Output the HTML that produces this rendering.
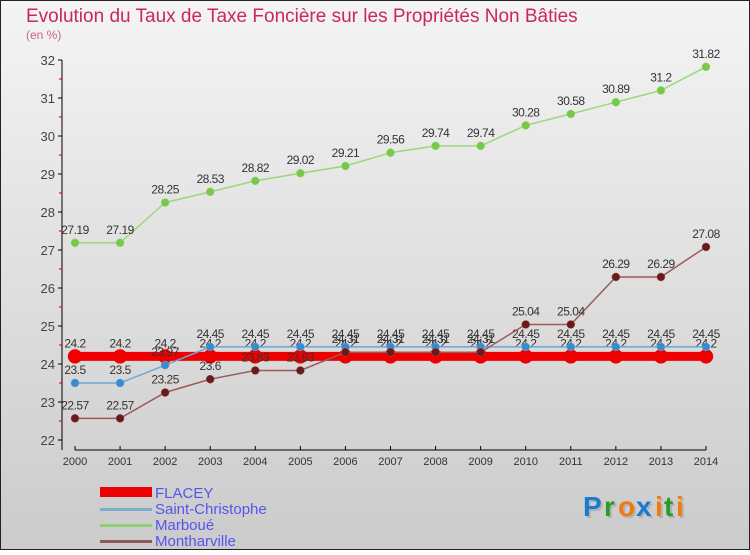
<!DOCTYPE html>
<html><head><meta charset="utf-8"><style>
body{margin:0;width:750px;height:550px;overflow:hidden;font-family:"Liberation Sans",sans-serif}
</style></head><body>
<svg id="c" width="750" height="550" xmlns="http://www.w3.org/2000/svg" font-family="Liberation Sans, sans-serif">
<defs><linearGradient id="bg" x1="0" y1="0" x2="0" y2="1"><stop offset="0" stop-color="#f4f4f4"/><stop offset="1" stop-color="#cbcbcb"/></linearGradient></defs>
<rect x="0.5" y="0.5" width="749" height="549" fill="url(#bg)" stroke="#222"/>
<text x="26" y="22" font-size="19" fill="#c8285a">Evolution du Taux de Taxe Foncière sur les Propriétés Non Bâties</text>
<text x="26" y="39" font-size="12" fill="#c8648a">(en %)</text>
<g id="plot"></g>
<g font-size="15">
<rect x="100" y="487" width="52" height="10" fill="#e00"/>
<text x="155" y="498" fill="#5555ee">FLACEY</text>
<rect x="100" y="508" width="52" height="3" fill="#7aaccc"/>
<text x="155" y="514" fill="#5555ee">Saint-Christophe</text>
<rect x="100" y="524" width="52" height="3" fill="#90d070"/>
<text x="155" y="530" fill="#5555ee">Marboué</text>
<rect x="100" y="540" width="52" height="3" fill="#8a5a5a"/>
<text x="155" y="546" fill="#5555ee">Montharville</text>
</g>
<g font-size="28" font-weight="bold">
<g fill="#999" opacity="0.5" transform="translate(2,2)"><text x="583" y="516">P</text><text x="604" y="516">r</text><text x="618" y="516">o</text><text x="636" y="516">x</text><text x="655" y="516">i</text><text x="664" y="516">t</text><text x="676" y="516">i</text></g>
<text x="583" y="516" fill="#1a7ad0">P</text><text x="604" y="516" fill="#2a9a2a">r</text><text x="618" y="516" fill="#f07a10">o</text><text x="636" y="516" fill="#1a7ad0">x</text><text x="655" y="516" fill="#f07a10">i</text><text x="664" y="516" fill="#2a9a2a">t</text><text x="676" y="516" fill="#f07a10">i</text>
</g>
</svg>
<script>
const years=[2000,2001,2002,2003,2004,2005,2006,2007,2008,2009,2010,2011,2012,2013,2014];
const flacey=[24.2,24.2,24.2,24.2,24.2,24.2,24.2,24.2,24.2,24.2,24.2,24.2,24.2,24.2,24.2];
const saintChristophe=[23.5,23.5,23.97,24.45,24.45,24.45,24.45,24.45,24.45,24.45,24.45,24.45,24.45,24.45,24.45];
const marboue=[27.19,27.19,28.25,28.53,28.82,29.02,29.21,29.56,29.74,29.74,30.28,30.58,30.89,31.2,31.82];
const montharville=[22.57,22.57,23.25,23.6,23.83,23.83,24.31,24.31,24.31,24.31,25.04,25.04,26.29,26.29,27.08];
const yTicks=[22,23,24,25,26,27,28,29,30,31,32];
const NS='http://www.w3.org/2000/svg';
const g=document.getElementById('plot');
const X=i=>75+i*(706-75)/(years.length-1);
const Y=v=>440-(v-22)*38;
function mk(t,a,p){const e=document.createElementNS(NS,t);for(const k in a)e.setAttribute(k,a[k]);(p||g).appendChild(e);return e;}
let ya=mk('line',{x1:62,y1:60,x2:62,y2:450,stroke:'#000'});


let xa=mk('line',{x1:75,y1:450,x2:706,y2:450,stroke:'#000'});


yTicks.forEach(v=>{
 mk('line',{x1:58,y1:Y(v),x2:62,y2:Y(v),stroke:'#000'});
 if(v<32)mk('line',{x1:59,y1:Y(v+0.5),x2:62,y2:Y(v+0.5),stroke:'#c00'});
 const t=mk('text',{x:55,y:Y(v)+5,'font-size':13,'text-anchor':'end',fill:'#444'});t.textContent=v;
 
 
});
years.forEach((y,i)=>{
 mk('line',{x1:X(i),y1:446,x2:X(i),y2:450,stroke:'#000'});
 const t=mk('text',{x:X(i),y:465,'font-size':11,'text-anchor':'middle',fill:'#333'});t.textContent=y;
 
 
});
function series(name,vals,color,w,r,dot){
 const s=mk('g',{});
 
 
 const pl=mk('polyline',{points:vals.map((v,i)=>X(i)+','+Y(v)).join(' '),fill:'none',stroke:color,'stroke-width':w},s);
 
 
 vals.forEach((v,i)=>{
  const c=mk('circle',{cx:X(i),cy:Y(v),r:r,fill:dot,stroke:color,'stroke-width':0.5},s);
  
  
  const t=mk('text',{x:X(i),y:Y(v)-9,'font-size':12,'text-anchor':'middle',fill:'#333','letter-spacing':'-0.5'},s);t.textContent=v;
  
  
 });
}
series('flacey',flacey,'#ee0000',9,7,'#ee0000');
series('saint-christophe',saintChristophe,'#6aa6d6',1.5,4,'#3a8ad0');
series('marboue',marboue,'#9ad87a',1.5,4,'#7ac84a');
series('montharville',montharville,'#9a5a5a',1.5,4,'#6a1a1a');
</script>
</body></html>
